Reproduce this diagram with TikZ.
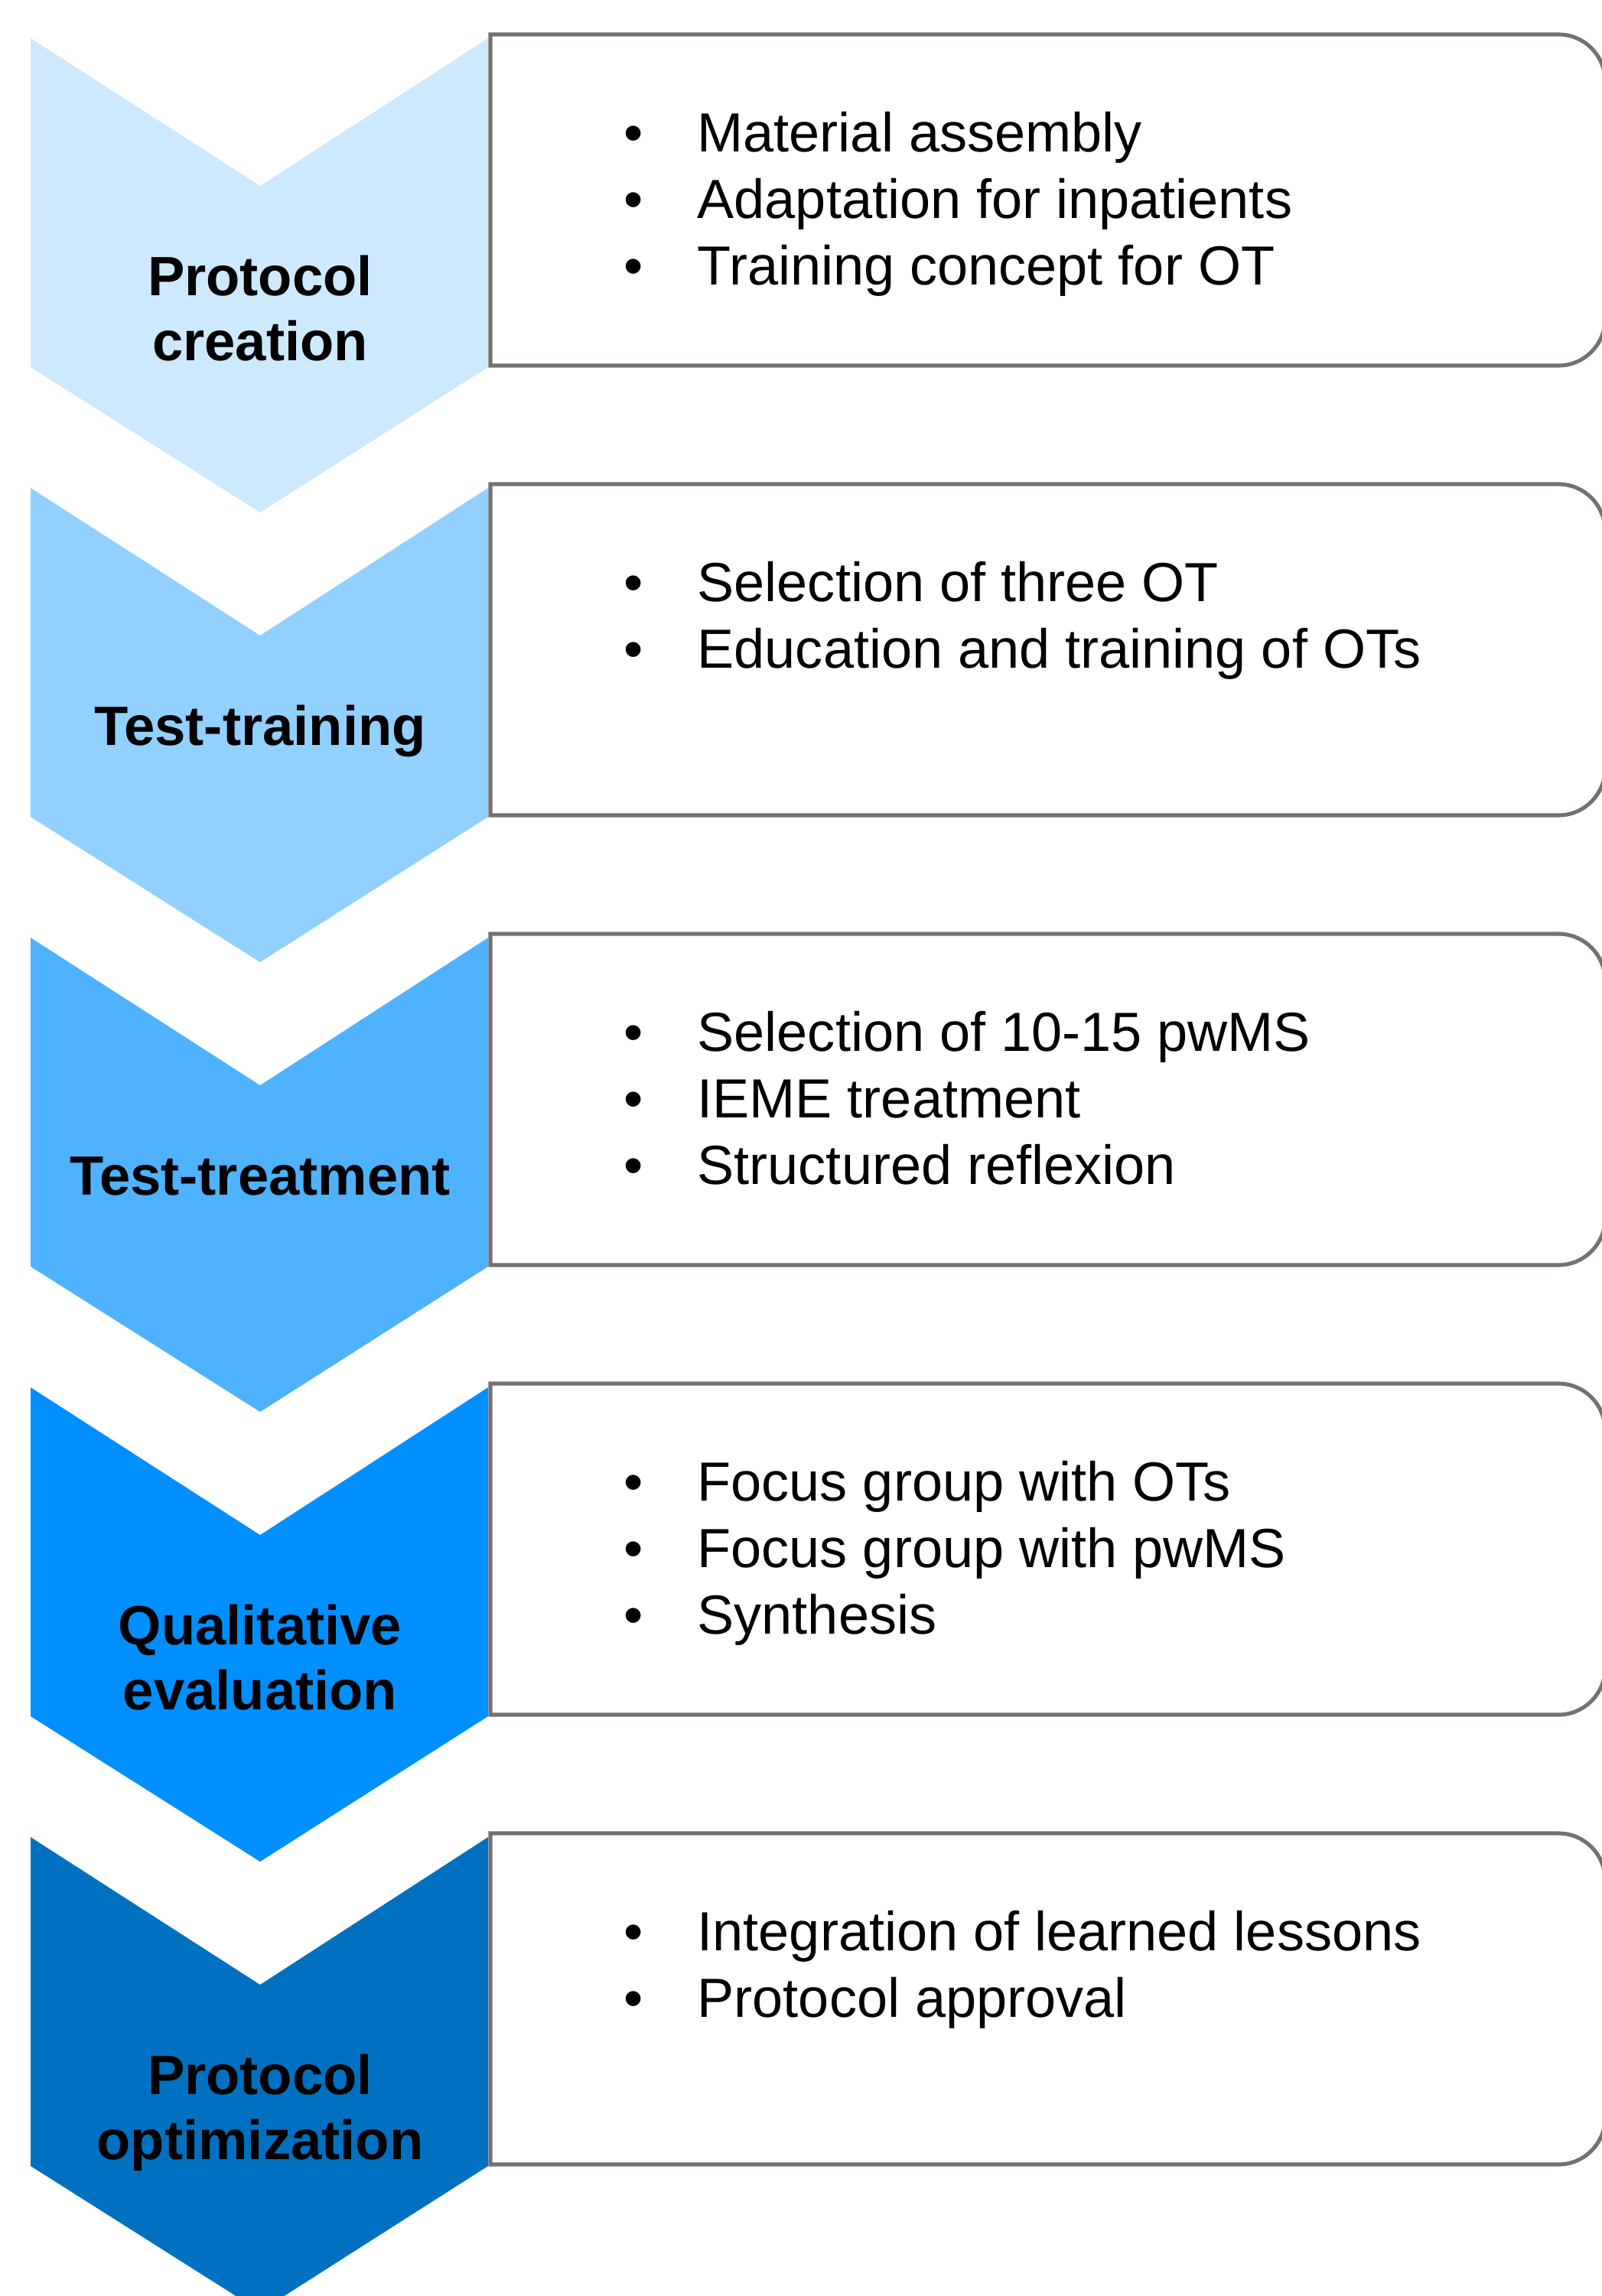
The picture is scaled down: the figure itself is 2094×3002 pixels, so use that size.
\documentclass[tikz,border=0pt]{standalone}
\usepackage{fontspec}
\setmainfont{Liberation Sans}
\definecolor{cA}{RGB}{205,233,255}
\definecolor{cB}{RGB}{145,208,255}
\definecolor{cC}{RGB}{79,178,255}
\definecolor{cD}{RGB}{0,143,255}
\definecolor{cE}{RGB}{0,112,192}
\definecolor{boxgray}{RGB}{118,113,113}
\begin{document}
\begin{tikzpicture}[x=0.01cm,y=-0.01cm,
  boxline/.style={draw=boxgray,line width=1.45pt,fill=white},
  lab/.style={font=\fontsize{20.6}{24}\selectfont\bfseries,anchor=base,inner sep=0pt},
  itm/.style={font=\fontsize{20.5}{24}\selectfont,anchor=base west,inner sep=0pt},
  bul/.style={font=\fontsize{20.5}{24}\selectfont,anchor=base,inner sep=0pt}]
\useasboundingbox (0,0) rectangle (2094,3002);
\clip (0,0) rectangle (2094,3002);
\foreach \i/\col in {0/cA,1/cB,2/cC,3/cD,4/cE}{
  \pgfmathsetmacro\o{\i*588}
  \fill[\col] (40,50+\o) -- (340,243+\o) -- (638,50+\o) -- (638,480+\o) -- (340,670+\o) -- (40,480+\o) -- cycle;
  \draw[boxline] (641,45+\o) -- (1900,45+\o) [rounded corners=0.61cm] -- (2098,45+\o) -- (2098,478+\o) -- (1900,478+\o) [sharp corners] -- (641,478+\o) -- cycle;
}
% stage labels
\node[lab] (l1a) at (340,386) {Protocol};
\node[lab] (l1b) at (340,471) {creation};
\node[lab] (l2) at (340,974) {Test-training};
\node[lab] (l3) at (340,1562) {Test-treatment};
\node[lab] (l4a) at (340,2150) {Qualitative};
\node[lab] (l4b) at (340,2235) {evaluation};
\node[lab] (l5a) at (340,2738) {Protocol};
\node[lab] (l5b) at (340,2823) {optimization};
% stage 1 items
\node[bul] (b1a) at (828,198) {\textbullet};
\node[itm] (t1a) at (911,198) {Material assembly};
\node[bul] (b1b) at (828,285) {\textbullet};
\node[itm] (t1b) at (911,285) {Adaptation for inpatients};
\node[bul] (b1c) at (828,372) {\textbullet};
\node[itm] (t1c) at (911,372) {Training concept for OT};
% stage 2 items
\node[bul] (b2a) at (828,786) {\textbullet};
\node[itm] (t2a) at (911,786) {Selection of three OT};
\node[bul] (b2b) at (828,873) {\textbullet};
\node[itm] (t2b) at (911,873) {Education and training of OTs};
% stage 3 items
\node[bul] (b3a) at (828,1374) {\textbullet};
\node[itm] (t3a) at (911,1374) {Selection of 10-15 pwMS};
\node[bul] (b3b) at (828,1461) {\textbullet};
\node[itm] (t3b) at (911,1461) {IEME treatment};
\node[bul] (b3c) at (828,1548) {\textbullet};
\node[itm] (t3c) at (911,1548) {Structured reflexion};
% stage 4 items
\node[bul] (b4a) at (828,1962) {\textbullet};
\node[itm] (t4a) at (911,1962) {Focus group with OTs};
\node[bul] (b4b) at (828,2049) {\textbullet};
\node[itm] (t4b) at (911,2049) {Focus group with pwMS};
\node[bul] (b4c) at (828,2136) {\textbullet};
\node[itm] (t4c) at (911,2136) {Synthesis};
% stage 5 items
\node[bul] (b5a) at (828,2550) {\textbullet};
\node[itm] (t5a) at (911,2550) {Integration of learned lessons};
\node[bul] (b5b) at (828,2637) {\textbullet};
\node[itm] (t5b) at (911,2637) {Protocol approval};
\end{tikzpicture}
\end{document}
